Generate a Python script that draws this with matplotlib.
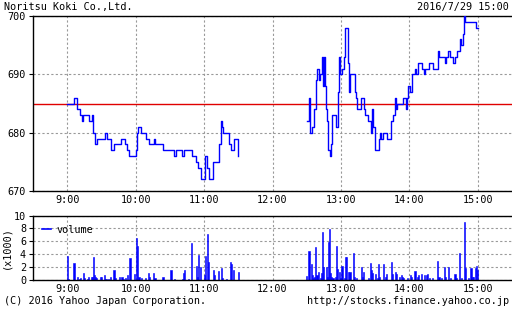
import matplotlib as mpl
mpl.use('Agg')
import matplotlib.pyplot as plt
import numpy as np

# price change points, minutes after 9:00 (morning) / 12:00 (afternoon)
am_min = [0, 6, 9, 11, 13, 14, 19, 22, 23, 24, 26, 33, 35, 38, 41, 47, 51, 52, 54,
          60, 61, 62, 65, 69, 72, 76, 77, 84, 94, 95, 101, 102, 109, 113, 115, 117,
          121, 123, 124, 128, 133, 135, 136, 137, 142, 144, 146, 150]
am_price = [685, 686, 684, 683, 682, 683, 682, 683, 680, 678, 679, 680, 679, 677, 678, 679, 678, 677, 676,
            677, 680, 681, 680, 679, 678, 679, 678, 677, 676, 677, 676, 677, 676, 675, 674, 672,
            676, 674, 672, 675, 678, 682, 681, 680, 678, 677, 679, 676]

pm_min = [30, 32, 33, 35, 36, 38, 39, 41, 42, 43, 44, 45, 46, 47, 48, 49, 50, 51, 52,
          56, 57, 58, 59, 61, 63, 64, 66, 67, 68, 72, 73, 74, 78, 80, 81, 84, 86, 87,
          88, 90, 93, 94, 95, 97, 100, 104, 106, 107, 108, 109, 114, 117, 118, 119, 121,
          122, 125, 126, 128, 131, 133, 134, 137, 141, 145, 146, 151, 152, 154, 156, 158,
          160, 162, 164, 165, 167, 168, 169, 178, 180]
pm_price = [682, 686, 680, 681, 684, 689, 691, 689, 690, 693, 688, 693, 688, 684, 682, 677, 676, 678, 683,
            681, 687, 693, 690, 691, 693, 698, 692, 687, 690, 687, 686, 684, 686, 684, 683, 682, 680, 684,
            681, 677, 679, 680, 679, 680, 679, 682, 683, 686, 684, 685, 686, 684, 686, 688, 687,
            690, 691, 690, 692, 691, 690, 691, 692, 691, 694, 693, 692, 693, 694, 693, 692,
            693, 694, 696, 695, 697, 700, 699, 698, 698]

prev_close = 685

# volume (x1000)
am_vol_min = [0, 1, 6, 9, 11, 12, 14, 15, 18, 19, 21, 22, 23, 24, 25, 26, 29, 30, 33, 34, 36, 38,
              41, 42, 46, 48, 49, 51, 53, 55, 59, 61, 62, 63, 65, 69, 71, 72, 76, 77, 84, 91,
              94, 101, 102, 103, 106, 109, 113, 114, 115, 117, 120, 121, 123, 124, 128, 129,
              133, 135, 136, 140, 143, 144, 146, 150]
am_vol = [3.7, 0.2, 2.6, 0.5, 0.2, 0.3, 1.1, 0.3, 0.2, 0.5, 0.5, 0.5, 3.6, 0.7, 0.4, 0.3, 0.5, 0.5, 0.8, 0.2, 0.2, 0.5,
          1.6, 0.3, 0.5, 0.5, 0.2, 0.3, 0.8, 3.4, 1.0, 6.5, 5.2, 0.5, 0.3, 0.3, 1.1, 0.4, 1.1, 0.3, 0.5, 1.6,
          0.2, 0.2, 1.1, 1.5, 0.2, 5.7, 2.2, 0.4, 3.9, 2.0, 0.8, 3.7, 7.2, 2.8, 1.5, 0.8,
          1.4, 1.8, 0.3, 0.2, 2.8, 2.5, 1.5, 1.3]

pm_vol_min = [30, 32, 34, 35, 36, 37, 38, 39, 40, 42, 43, 44, 45, 47, 48, 49, 50, 51, 52, 53, 55,
              56, 57, 59, 60, 61, 63, 64, 65, 67, 68, 71, 72, 74, 78, 79, 80, 84, 86, 87, 88, 90,
              92, 93, 94, 97, 99, 100, 104, 105, 108, 109, 111, 113, 114, 115, 118, 121, 122, 125,
              127, 128, 131, 133, 135, 136, 138, 140, 145, 146, 148, 151, 152, 154, 156, 160, 161,
              164, 166, 168, 169, 172, 174, 175, 176, 178, 179, 180]
pm_vol = [0.6, 4.5, 2.5, 0.8, 0.3, 0.5, 5.1, 0.8, 1.2, 0.3, 1.1, 7.4, 2.0, 2.0, 0.5, 5.9, 7.9, 1.1, 0.5, 0.3, 0.4,
          5.2, 1.7, 1.3, 0.3, 2.2, 0.3, 3.6, 3.6, 1.3, 1.2, 4.2, 0.5, 0.3, 2.0, 0.4, 1.2, 0.3, 2.7, 1.5, 1.1, 1.0,
          0.3, 2.5, 0.5, 2.5, 0.4, 1.0, 2.8, 1.0, 1.2, 1.0, 0.5, 0.8, 0.5, 0.3, 0.3, 0.8, 0.4, 1.4,
          0.5, 0.8, 1.0, 0.8, 0.8, 1.0, 0.3, 0.3, 3.0, 0.5, 0.3, 2.0, 0.4, 2.0, 0.3, 1.0, 0.3,
          4.2, 0.3, 9.0, 1.9, 0.3, 1.9, 0.5, 0.5, 1.9, 2.2, 1.5]

hours = [9, 10, 11, 12, 13, 14, 15]
hour_labels = ["%d:00" % h for h in hours]

FONT = 'DejaVu Sans Mono'
FS = 7.3
GRID = dict(color='#999999', linestyle=(0, (2, 2)), linewidth=0.8)

def to_h(base, mins):
    return base + np.asarray(mins) / 60.0

fig = plt.figure(figsize=(5.12, 3.10), dpi=100)
W, H = 512.0, 310.0

ax = fig.add_axes([33 / W, 1 - 191 / H, 1 - 33 / W, 175 / H])
axv = fig.add_axes([33 / W, 1 - 280 / H, 1 - 33 / W, 64.5 / H])

for a in (ax, axv):
    a.set_xlim(8.5, 15.5)
    a.set_xticks(hours)
    a.set_xticklabels(hour_labels, fontfamily=FONT, fontsize=FS)
    a.tick_params(axis='x', length=0, pad=3)
    a.tick_params(axis='y', direction='out', length=3, width=0.8, pad=2, labelsize=FS)
    a.spines['right'].set_visible(False)
    for s in ('left', 'top', 'bottom'):
        a.spines[s].set_linewidth(1.0)
    a.grid(True, **GRID)
    a.set_axisbelow(True)

ax.set_ylim(670, 700)
ax.set_yticks([670, 680, 690, 700])
ax.set_yticklabels(['670', '680', '690', '700'], fontfamily=FONT, fontsize=FS)
ax.axhline(prev_close, color='#e00000', lw=1.0, zorder=2)
ax.plot(to_h(9, am_min), am_price, drawstyle='steps-post', color='#0000ff', lw=1.0, zorder=3)
ax.plot(to_h(12, pm_min), pm_price, drawstyle='steps-post', color='#0000ff', lw=1.0, zorder=3)

axv.set_ylim(0, 10)
axv.set_yticks([0, 2, 4, 6, 8, 10])
axv.set_yticklabels(['0', '2', '4', '6', '8', '10'], fontfamily=FONT, fontsize=FS)
axv.bar(to_h(9, am_vol_min), am_vol, width=1.0 / 60, color='#0000ff',
        edgecolor='#0000ff', linewidth=0.4)
axv.bar(to_h(12, pm_vol_min), pm_vol, width=1.0 / 60, color='#0000ff',
        edgecolor='#0000ff', linewidth=0.4)
axv.set_ylabel('(x1000)', fontfamily=FONT, fontsize=FS)
axv.yaxis.set_label_coords(-22 / (W - 33), 0.5)
h, = axv.plot([], [], color='#0000ff', lw=1.2)
axv.legend([h], ['volume'], loc='upper left', frameon=False, handlelength=0.9,
           handletextpad=0.5, borderaxespad=0.3, borderpad=0.6,
           prop={'family': FONT, 'size': FS})

fig.text(4 / W, 1 - 7 / H, 'Noritsu Koki Co.,Ltd.', fontfamily=FONT, fontsize=FS, va='center', ha='left')
fig.text(1 - 3 / W, 1 - 7 / H, '2016/7/29 15:00', fontfamily=FONT, fontsize=FS, va='center', ha='right')
fig.text(4 / W, 1 - 301 / H, '(C) 2016 Yahoo Japan Corporation.', fontfamily=FONT, fontsize=FS, va='center', ha='left')
fig.text(1 - 3 / W, 1 - 301 / H, 'http://stocks.finance.yahoo.co.jp', fontfamily=FONT, fontsize=FS, va='center', ha='right')

plt.savefig('out.png', dpi=100)
